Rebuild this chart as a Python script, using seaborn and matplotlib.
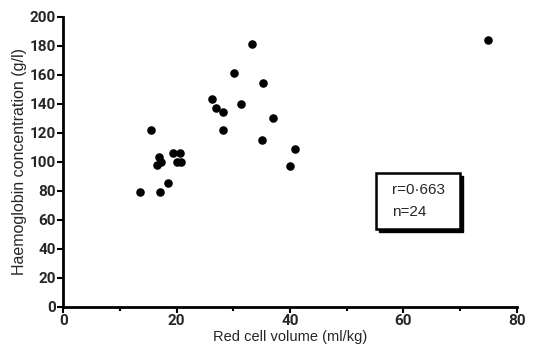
import matplotlib
matplotlib.use("Agg")
import matplotlib.pyplot as plt
import seaborn as sns
import pandas as pd
from matplotlib.patches import Rectangle

# --- data ---
red_cell_volume = [13.5, 15.4, 16.8, 16.6, 17.3, 17.1, 18.5, 19.4, 20.6, 20.0, 20.7,
                   26.3, 27.0, 28.1, 28.1, 30.1, 31.4, 33.2, 35.2, 35.1, 36.9,
                   40.8, 39.9, 74.9]
haemoglobin = [79, 122, 103, 98, 100, 79, 85, 106, 106, 100, 100,
               143, 137, 134, 122, 161, 140, 181, 154, 115, 130,
               109, 97, 184]
x_ticks = [0, 20, 40, 60, 80]
y_ticks = list(range(0, 201, 20))
stats_text = "r=0·663\nn=24"

df = pd.DataFrame({"rcv": red_cell_volume, "hb": haemoglobin})

sns.set_theme(style="ticks")
plt.rcParams['font.family'] = ['Liberation Sans', 'DejaVu Sans']

fig = plt.figure(figsize=(5.38, 3.47), dpi=100)
ax = fig.add_axes([0.1177, 0.116, 0.843, 0.836])

sns.scatterplot(data=df, x="rcv", y="hb", ax=ax, color="black", s=38,
                edgecolor="black", linewidth=0)

ax.set_xlim(0, 80)
ax.set_ylim(0, 200)
ax.set_xticks(x_ticks)
ax.set_xticks([10, 30, 50, 70], minor=True)
ax.set_yticks(y_ticks)
tick_font = dict(family="Roboto", fontweight="bold", fontsize=11)
ax.set_xticklabels([str(t) for t in x_ticks], **tick_font)
ax.set_yticklabels([str(t) for t in y_ticks], **tick_font)
ax.tick_params(axis="both", which="major", direction="out", length=4, width=1.5,
               color="black", pad=1.5)
ax.tick_params(axis="x", which="minor", direction="out", length=3, width=1.5, color="black")

for side in ["top", "right"]:
    ax.spines[side].set_visible(False)
for side in ["left", "bottom"]:
    ax.spines[side].set_linewidth(2)
    ax.spines[side].set_color("black")
ax.spines["left"].set_bounds(0, 200)
ax.spines["bottom"].set_bounds(0, 80)

ax.set_xlabel("Red cell volume (ml/kg)", fontsize=10.5, labelpad=1)
ax.set_ylabel("Haemoglobin concentration (g/l)", fontsize=11.5, labelpad=2)

# boxed statistics with a drop shadow (figure pixel coords)
W, H = 538, 347
bx0, by0, bw, bh = 376, 173, 84, 56
shadow = Rectangle(((bx0 + 3) / W, 1 - (by0 + bh + 3) / H), bw / W, bh / H,
                   transform=fig.transFigure, facecolor="black", edgecolor="black", zorder=5)
box = Rectangle((bx0 / W, 1 - (by0 + bh) / H), bw / W, bh / H,
                transform=fig.transFigure, facecolor="white", edgecolor="black",
                linewidth=1.8, zorder=6)
fig.patches.extend([shadow, box])
fig.text(392 / W, 1 - (by0 + bh / 2) / H, stats_text, fontsize=11,
         va="center", ha="left", linespacing=1.7, zorder=7)

fig.savefig("out.png", dpi=100)
